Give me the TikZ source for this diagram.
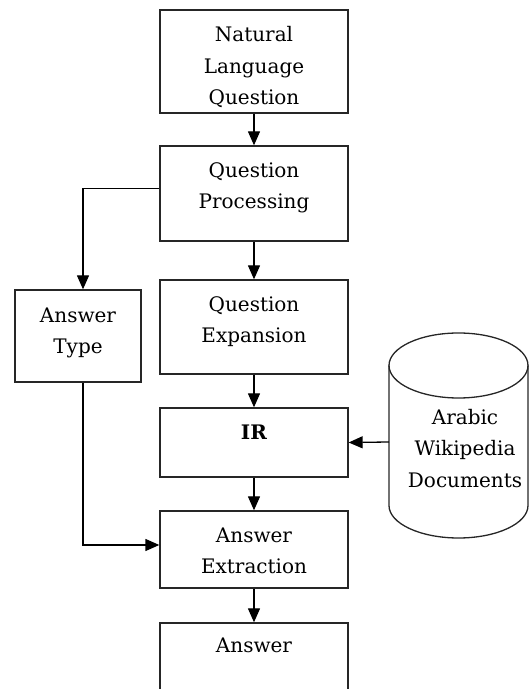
\documentclass[tikz,border=0pt]{standalone}
\usepackage{fontspec}
\setmainfont{DejaVu Serif}
\usetikzlibrary{arrows.meta,positioning}

\begin{document}
\begin{tikzpicture}[x=1pt,y=1pt,
  blk/.style={draw=black!85, line width=1.3pt, minimum width=188pt},
  lbl/.style={font=\fontsize{20}{31.5}\selectfont, align=center, inner sep=0pt},
  arr/.style={-{Triangle[length=14pt,width=12pt]}, line width=1.3pt}
]
  \useasboundingbox (0,0) rectangle (529,689);

  % boxes
  \node[blk, minimum height=103pt] (nlq) at (254,627.5) {};
  \node[blk, minimum height=95pt] (qp) at (254,495.5) {};
  \node[blk, minimum height=94pt] (qe) at (254,362) {};
  \node[blk, minimum height=69pt] (ir) at (254,246.5) {};
  \node[blk, minimum height=77pt] (ae) at (254,139.5) {};
  \node[blk, minimum height=80pt] (ans) at (254,26) {};
  \node[blk, minimum width=126pt, minimum height=92pt] (atype) at (78,353) {};

  % texts
  \node[lbl, below=17pt of nlq.north] (nlqtxt) {Natural\\Language\\Question};
  \node[lbl, below=17pt of qp.north] (qptxt) {Question\\Processing};
  \node[lbl, below=17pt of qe.north] (qetxt) {Question\\Expansion};
  \node[lbl, below=17pt of ir.north] (irtxt) {\textbf{IR}};
  \node[lbl, below=17pt of ae.north] (aetxt) {Answer\\Extraction};
  \node[lbl, below=15pt of ans.north] (anstxt) {Answer};
  \node[lbl, below=18pt of atype.north] (atypetxt) {Answer\\Type};

  % database
  \draw[draw=black!85, line width=1.3pt] (389,323.5) -- (389,183.5)
    arc[start angle=180, end angle=360, x radius=69.5, y radius=32.5] -- (528,323.5);
  \draw[draw=black!85, line width=1.3pt] (458.5,323.5) ellipse[x radius=69.5, y radius=32.5];
  \coordinate (dbin) at (389,247);
  \node[lbl, anchor=north] (wikitxt) at (465,280) {Arabic\\Wikipedia\\Documents};

  % connectors
  \draw[arr] (nlq) -- (qp);
  \draw[arr] (qp) -- (qe);
  \draw[arr] (qe) -- (ir);
  \draw[arr] (ir) -- (ae);
  \draw[arr] (ae) -- (ans);
  \draw[arr] ([yshift=5pt]qp.west) -| ([xshift=5pt]atype.north);
  \draw[arr] ([xshift=5pt]atype.south) |- ([yshift=4.5pt]ae.west);
  \draw[arr] (dbin) -- (ir.east);
\end{tikzpicture}
\end{document}
